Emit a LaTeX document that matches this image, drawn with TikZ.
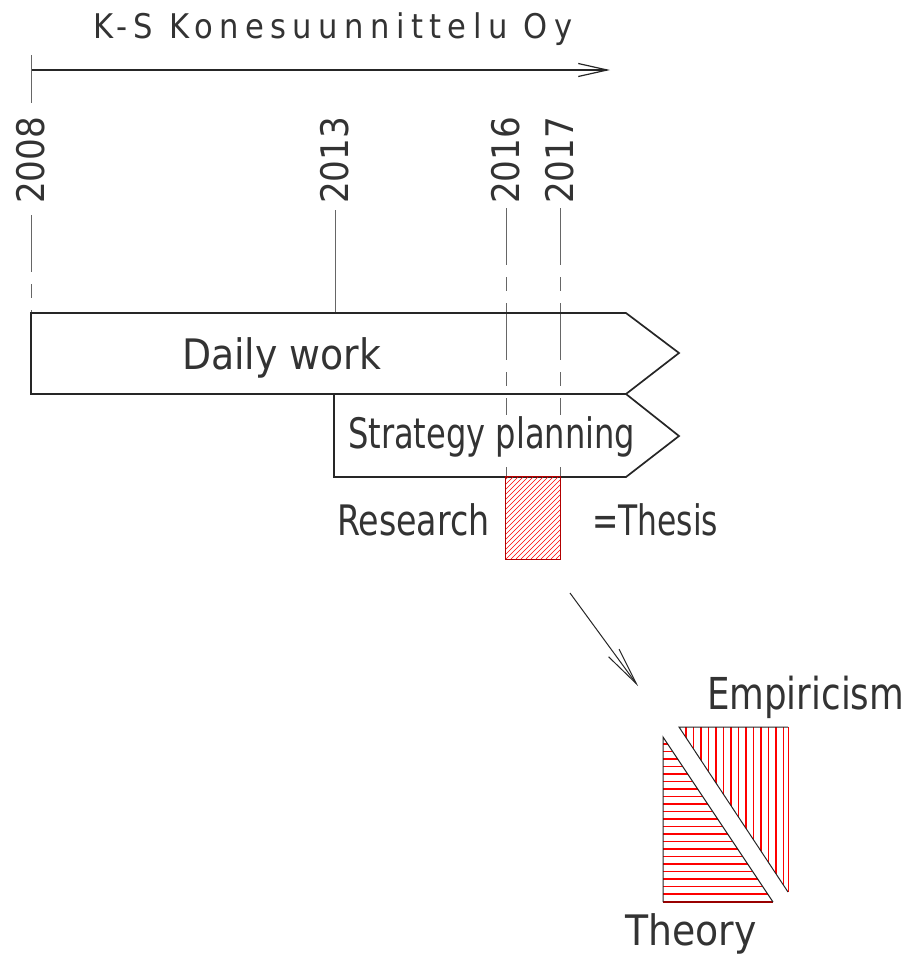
\documentclass[tikz,border=0pt]{standalone}
\usepackage{fontspec}
\setmainfont{DejaVu Sans Condensed}
\usetikzlibrary{arrows.meta}

\begin{document}
\begin{tikzpicture}[x=1pt,y=-1pt,
  outline/.style={draw=black!85, line width=1.7pt},
  guide/.style={draw=black!60, line width=0.9pt},
  axisline/.style={guide, dash pattern=on 57pt off 12pt on 14pt off 12pt},
  hatch/.style={draw=red, line width=1.2pt},
  txt/.style={anchor=base west, inner sep=0pt, text=black!80, font=\fontsize{42}{50}\selectfont},
  year/.style={rotate=90, anchor=west, inner sep=0pt, text=black!80, font=\fontsize{38}{44}\selectfont}]
\useasboundingbox (0,0) rectangle (909,956);

\node[txt, font=\fontsize{34}{40}\selectfont\addfontfeatures{LetterSpace=19}] (firm) at (93,38) {K-S Konesuunnittelu Oy};
\coordinate (t0) at (31,70);
\coordinate (t1) at (610,70);
\draw[line width=1.2pt, draw=black!85, -{Straight Barb[length=29pt,width=13pt]}] (t0) -- (t1);
\draw[guide] (31,55) -- (31,103);

\node[year] (y2008) at (31,204) {2008};
\node[year] (y2013) at (335,204) {2013};
\node[year] (y2016) at (506,204) {2016};
\node[year] (y2017) at (560,204) {2017};

\draw[axisline, shorten <=11pt] (y2008.west) -- (31,313);
\draw[guide, shorten <=6pt] (y2013.west) -- (335,313);
\draw[axisline, shorten <=4pt] (y2016.west) -- (506,477);
\draw[axisline, shorten <=4pt] (y2017.west) -- (560,477);

\draw[outline, line join=miter] (31,313) -- (626,313) -- (679,353) -- (626,394) -- (31,394) -- cycle;
\draw[outline, line join=miter] (626,394) -- (679,436) -- (626,477) -- (334,477) -- (334,394);

\node[txt] (daily) at (182,369) {Daily work};
\node[txt, xscale=0.85, fill=white, inner sep=1pt] (strategy) at (347,448) {Strategy planning};

\node[minimum width=54pt, minimum height=82pt, inner sep=0pt] (thesisbox) at (533,518) {};
\begin{scope}
\clip (thesisbox.south west) rectangle (thesisbox.north east);
\foreach \k in {0,5,...,145} \draw[hatch, line width=0.6pt] (416+\k,559) -- ++(90,-90);
\end{scope}
\draw[draw=red!70!black, line width=1pt] (thesisbox.south west) rectangle (thesisbox.north east);
\node[txt, xscale=0.88] (research) at (337,535) {Research};
\node[txt, xscale=0.83] (equals) at (592,535) {=Thesis};

\coordinate (a0) at (570,593);
\coordinate (a1) at (638,686);
\draw[line width=1pt, draw=black!85, -{Straight Barb[length=38pt,width=13pt]}] (a0) -- (a1);

\begin{scope}
\clip (679,727) -- (788,727) -- (788,892) -- cycle;
\foreach \x in {686,693.5,...,790} \draw[hatch] (\x,720) -- (\x,900);
\end{scope}
\draw[red, line width=1pt] (788,727) -- (788,892);
\draw[outline, line width=1pt] (788,892) -- (679,727) -- (788,727);

\begin{scope}
\clip (663,737) -- (663,902) -- (773,902) -- cycle;
\foreach \y in {744,751.5,...,902} \draw[hatch] (655,\y) -- (780,\y);
\end{scope}
\draw[red!60!black, line width=1.5pt] (663,902) -- (773,902);
\draw[outline, line width=1pt] (663,902) -- (663,737) -- (773,902);

\node[txt, font=\fontsize{44}{50}\selectfont, xscale=0.9] (empiricism) at (707,709) {Empiricism};
\node[txt] (theory) at (625,945) {Theory};
\end{tikzpicture}
\end{document}
